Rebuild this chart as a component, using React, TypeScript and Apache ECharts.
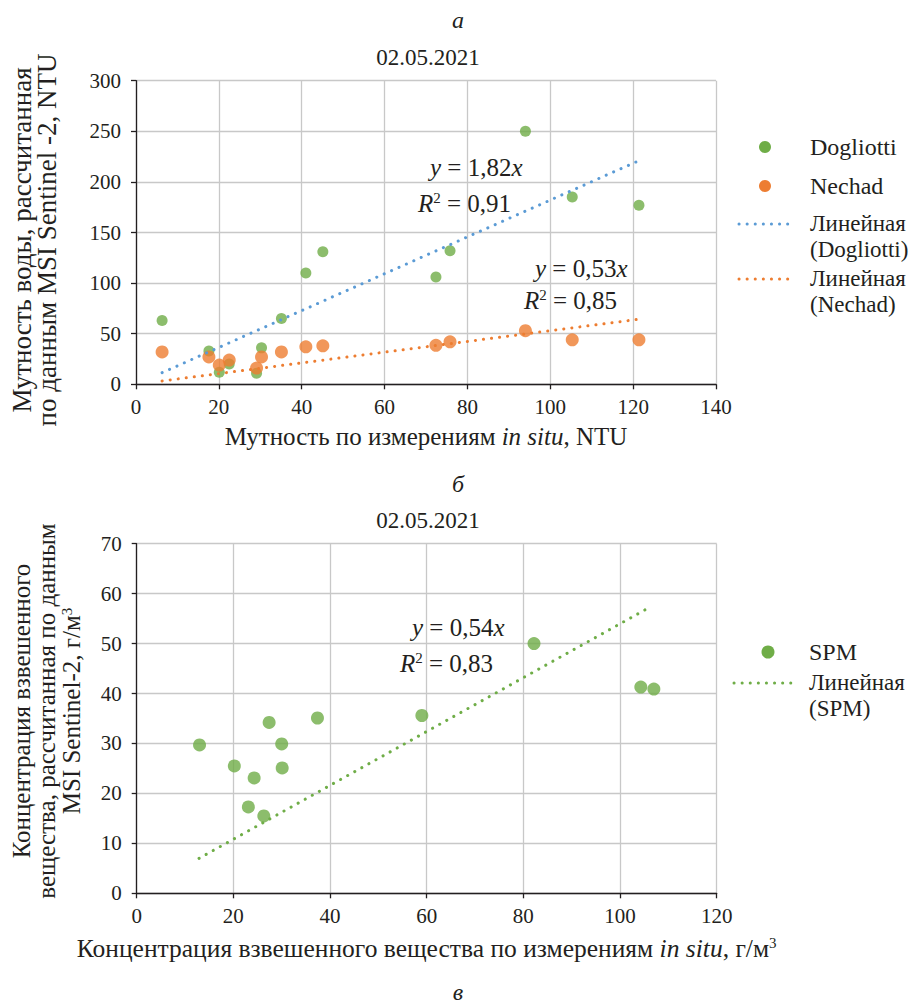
import React, { useEffect, useRef } from "react";
import * as echarts from "echarts";

// ---- Data (panel а) ----
const insituNTU = [6.3, 17.6, 20.1, 22.5, 29.1, 30.3, 35.1, 41.0, 45.1, 72.4, 75.8, 94.0, 105.3, 121.4];
const dogliottiNTU = [63, 33, 12, 20, 11, 36, 65, 110, 131, 106, 132, 250, 185, 177];
const nechadNTU = [32, 27, 19, 24, 16, 27, 32, 37, 38, 38.5, 42, 53, 44, 44];
const dogliottiTrend = [[6.3, 11.5], [121.4, 221]];
const nechadTrend = [[6.3, 3.3], [121.4, 64.3]];

// ---- Data (panel б) ----
const insituSPM = [13.0, 20.2, 24.3, 23.1, 26.3, 27.4, 30.0, 30.1, 37.4, 59.0, 82.2, 104.3, 107.0];
const satSPM = [29.7, 25.5, 23.1, 17.3, 15.5, 34.2, 29.9, 25.1, 35.1, 35.6, 50.0, 41.3, 40.9];
const spmTrend = [[12.9, 7.0], [106, 57.2]];

const xTicks1 = { min: 0, max: 140, interval: 20 };
const yTicks1 = { min: 0, max: 300, interval: 50 };
const xTicks2 = { min: 0, max: 120, interval: 20 };
const yTicks2 = { min: 0, max: 70, interval: 10 };

const FONT = "'Liberation Serif', 'Times New Roman', serif";
const TXT = "#231f20";
const GREEN = "#6fad47";
const ORANGE = "#ed7d31";
const BLUE = "#5b9bd5";
const DOT = [0.1, 8];

const zip = (xs: number[], ys: number[]) => xs.map((x, i) => [x, ys[i]]);

const richBase = (size: number) => ({
  n: { fontFamily: FONT, fontSize: size, color: TXT },
  i: { fontFamily: FONT, fontSize: size, color: TXT, fontStyle: "italic" },
  s: { fontFamily: FONT, fontSize: Math.round(size * 0.6), color: TXT, verticalAlign: "top" },
});

function txt(x: number, y: number, text: string, size: number, opts: any = {}) {
  return {
    type: "text",
    x,
    y,
    silent: true,
    rotation: opts.rotation || 0,
    style: {
      text,
      fill: TXT,
      fontFamily: FONT,
      fontSize: size,
      fontStyle: opts.italic ? "italic" : "normal",
      align: opts.align || "left",
      verticalAlign: "middle",
      textAlign: opts.align || "left",
      textVerticalAlign: "middle",
      lineHeight: opts.lineHeight,
      rich: richBase(size),
    },
  };
}

function dotLine(x1: number, x2: number, y: number, color: string) {
  return {
    type: "line",
    silent: true,
    shape: { x1, y1: y, x2, y2: y },
    style: { stroke: color, lineWidth: 3, lineDash: DOT, lineCap: "round" },
  };
}

function dot(cx: number, cy: number, r: number, color: string) {
  return { type: "circle", silent: true, shape: { cx, cy, r }, style: { fill: color } };
}

function makeX(grid: number, ticks: any, name: string, gap: number, size: number) {
  return {
    gridIndex: grid,
    type: "value",
    ...ticks,
    axisLine: { show: true, onZero: false, lineStyle: { color: TXT, width: 1.3 } },
    axisTick: { show: true, length: 5, lineStyle: { color: TXT, width: 1.3 } },
    splitLine: { show: true, lineStyle: { color: "#c8c8c8", width: 1.3 } },
    axisLabel: { fontFamily: FONT, fontSize: 21, color: TXT, margin: 12 },
    name,
    nameLocation: "middle",
    nameGap: gap,
    nameTextStyle: { fontFamily: FONT, fontSize: size, color: TXT, rich: richBase(size) },
  };
}

function makeY(grid: number, ticks: any) {
  return {
    gridIndex: grid,
    type: "value",
    ...ticks,
    axisLine: { show: true, onZero: false, lineStyle: { color: TXT, width: 1.3 } },
    axisTick: { show: true, length: 5, lineStyle: { color: TXT, width: 1.3 } },
    splitLine: { show: true, lineStyle: { color: "#c8c8c8", width: 1.3 } },
    axisLabel: { fontFamily: FONT, fontSize: 21, color: TXT, margin: 15 },
  };
}

const LEG = 23;

export default function App() {
  const ref = useRef<HTMLDivElement>(null);
  useEffect(() => {
    if (!ref.current) return;
    const chart = echarts.init(ref.current, null, { renderer: "svg" });
    const trendStyle = (c: string) => ({ color: c, width: 3, type: DOT, cap: "round" });
    chart.setOption({
      animation: false,
      backgroundColor: "#ffffff",
      grid: [
        { left: 136, top: 80.7, width: 580, height: 303.6 },
        { left: 136.7, top: 543.7, width: 580, height: 349.6 },
      ],
      xAxis: [
        makeX(0, xTicks1, "{n|Мутность по измерениям }{i|in situ}{n|, NTU}", 40, 25),
        makeX(1, xTicks2, "{n|Концентрация взвешенного вещества по измерениям }{i|in situ}{n|, г/м}{s|3}", 42, 25.5),
      ],
      yAxis: [makeY(0, yTicks1), makeY(1, yTicks2)],
      series: [
        {
          name: "Dogliotti",
          type: "scatter",
          xAxisIndex: 0,
          yAxisIndex: 0,
          data: zip(insituNTU, dogliottiNTU),
          symbolSize: 11,
          itemStyle: { color: GREEN },
          z: 3,
        },
        {
          name: "Nechad",
          type: "scatter",
          xAxisIndex: 0,
          yAxisIndex: 0,
          data: zip(insituNTU, nechadNTU),
          symbolSize: 13,
          itemStyle: { color: ORANGE },
          z: 4,
        },
        {
          name: "Линейная (Dogliotti)",
          type: "line",
          xAxisIndex: 0,
          yAxisIndex: 0,
          data: dogliottiTrend,
          showSymbol: false,
          symbol: "none",
          lineStyle: trendStyle(BLUE),
          z: 5,
        },
        {
          name: "Линейная (Nechad)",
          type: "line",
          xAxisIndex: 0,
          yAxisIndex: 0,
          data: nechadTrend,
          showSymbol: false,
          symbol: "none",
          lineStyle: trendStyle(ORANGE),
          z: 5,
        },
        {
          name: "SPM",
          type: "scatter",
          xAxisIndex: 1,
          yAxisIndex: 1,
          data: zip(insituSPM, satSPM),
          symbolSize: 13,
          itemStyle: { color: GREEN },
          z: 3,
        },
        {
          name: "Линейная (SPM)",
          type: "line",
          xAxisIndex: 1,
          yAxisIndex: 1,
          data: spmTrend,
          showSymbol: false,
          symbol: "none",
          lineStyle: trendStyle(GREEN),
          z: 5,
        },
      ],
      graphic: [
        // panel letters and titles
        txt(458, 20, "а", 24, { italic: true, align: "center" }),
        txt(428, 57, "02.05.2021", 23, { align: "center" }),
        txt(458, 484, "б", 24, { italic: true, align: "center" }),
        txt(428, 520, "02.05.2021", 23, { align: "center" }),
        txt(458, 992, "в", 24, { italic: true, align: "center" }),
        // y axis names
        txt(34.5, 240, "Мутность воды, рассчитанная\nпо данным MSI Sentinel -2, NTU", 27, {
          align: "center",
          rotation: Math.PI / 2,
          lineHeight: 25,
        }),
        txt(46.7, 711, "{n|Концентрация взвешенного}\n{n|вещества, рассчитанная по данным}\n{n|MSI Sentinel-2, г/м}{s|3}", 25, {
          align: "center",
          rotation: Math.PI / 2,
          lineHeight: 25,
        }),
        // equations
        txt(430, 167, "{i|y} = 1,82{i|x}", 25),
        txt(418, 203, "{i|R}{s|2} = 0,91", 25),
        txt(535, 268, "{i|y} = 0,53{i|x}", 25),
        txt(524, 300, "{i|R}{s|2} = 0,85", 25),
        txt(412, 627, "{i|y} = 0,54{i|x}", 25),
        txt(400, 663, "{i|R}{s|2} = 0,83", 25),
        // legend panel а
        dot(765, 147, 6, GREEN),
        txt(810, 147, "Dogliotti", 24),
        dot(765, 186, 6, ORANGE),
        txt(810, 186, "Nechad", 24),
        dotLine(739, 792, 224, BLUE),
        txt(810, 223.5, "Линейная", LEG),
        txt(810, 249, "(Dogliotti)", LEG),
        dotLine(739, 792, 279, ORANGE),
        txt(810, 278.5, "Линейная", LEG),
        txt(810, 304, "(Nechad)", LEG),
        // legend panel б
        dot(768, 652, 6.5, GREEN),
        txt(809, 652, "SPM", 24),
        dotLine(734, 795, 683, GREEN),
        txt(809, 682.5, "Линейная", LEG),
        txt(809, 708, "(SPM)", LEG),
      ],
    });
    return () => chart.dispose();
  }, []);
  return (
    <div
      ref={ref}
      style={{ position: "absolute", left: 0, top: 0, width: 922, height: 1005, background: "#fff" }}
    />
  );
}
